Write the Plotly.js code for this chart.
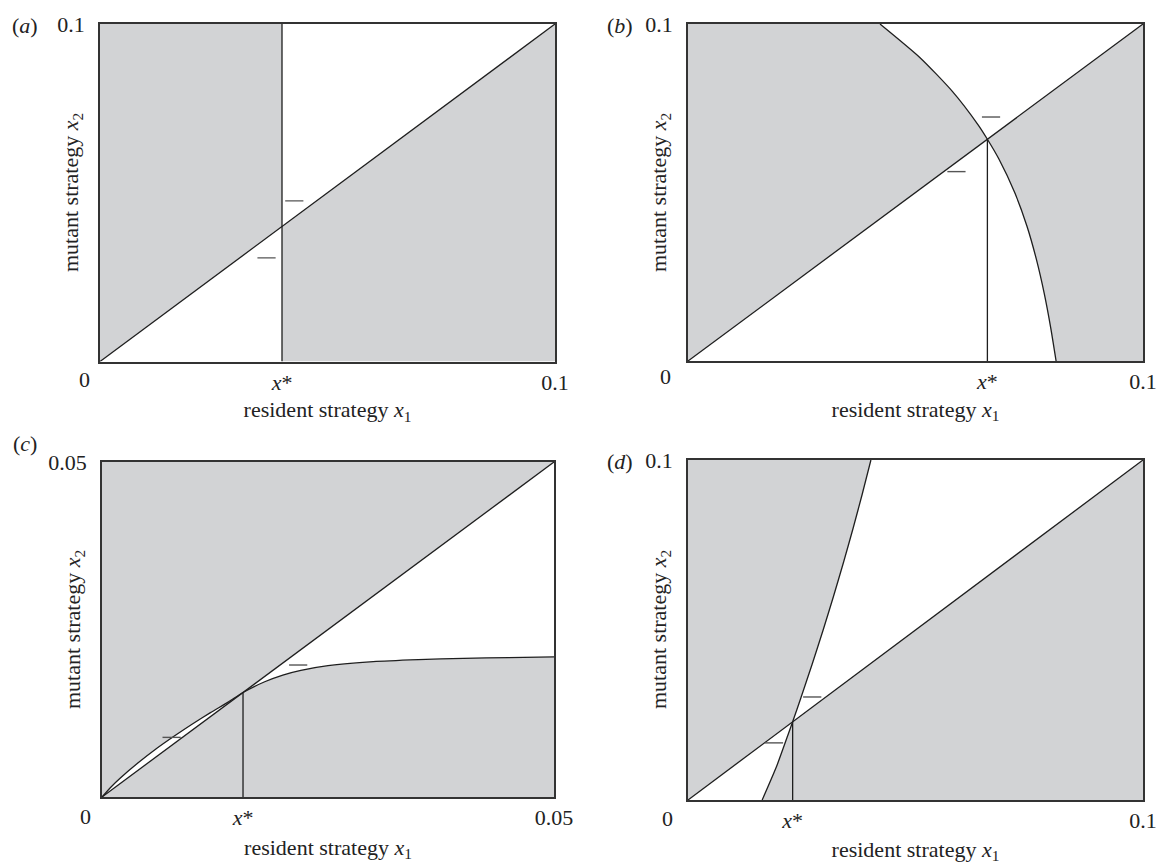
<!DOCTYPE html>
<html>
<head>
<meta charset="utf-8">
<script src="https://cdn.plot.ly/plotly-3.0.1.min.js"></script>
<style>html,body{margin:0;padding:0;background:#fff;}#chart{width:1163px;height:865px;}</style>
</head>
<body>
<div id="chart"></div>
<script>
// ---------- data ----------
// panel (a)
var maxA = 0.1;
var xStarA = 0.04;
var minusAx = [0.0427, 0.0366];
var minusAy = [0.0476, 0.0307];

// panel (b): boundary curve, listed from top to bottom
var maxB = 0.1;
var xStarB = 0.0658;
var curveBy = [0.1, 0.09, 0.08, 0.07, 0.0658, 0.06, 0.05, 0.04, 0.03, 0.02, 0.01, 0];
var curveBx = [0.0422, 0.0510, 0.0581, 0.0638, 0.0658, 0.0683, 0.0718, 0.0745, 0.0766, 0.0783, 0.0797, 0.0809];
var minusBx = [0.0666, 0.0590];
var minusBy = [0.0724, 0.0562];

// panel (c): boundary curve, left to right
var maxC = 0.05;
var xStarC = 0.0156;
var curveCx = [0, 0.001, 0.002, 0.004, 0.006, 0.008, 0.010, 0.012, 0.014, 0.0156, 0.018, 0.020, 0.022, 0.025, 0.030, 0.035, 0.040, 0.045, 0.050];
var curveCy = [0, 0.0015, 0.0028, 0.0051, 0.0072, 0.0091, 0.0109, 0.0126, 0.0142, 0.0156, 0.0172, 0.0182, 0.0189, 0.0196, 0.0202, 0.0205, 0.0207, 0.0208, 0.0209];
var minusCx = [0.0217, 0.0077];
var minusCy = [0.0197, 0.0089];

// panel (d): boundary curve, bottom to top
var maxD = 0.1;
var xStarD = 0.0230;
var curveDy = [0, 0.01, 0.02, 0.0230, 0.03, 0.04, 0.05, 0.06, 0.07, 0.08, 0.09, 0.1];
var curveDx = [0.0163, 0.0195, 0.0222, 0.0230, 0.0248, 0.0273, 0.0297, 0.0320, 0.0342, 0.0363, 0.0383, 0.0402];
var minusDx = [0.0273, 0.0189];
var minusDy = [0.0303, 0.0168];

// tick labels
var tickA = ['<i>x</i>*', '0.1'];
var tickB = ['<i>x</i>*', '0.1'];
var tickC = ['<i>x</i>*', '0.05'];
var tickD = ['<i>x</i>*', '0.1'];
var xTitle = 'resident strategy <i>x</i><sub>1</sub>';
var yTitle = 'mutant strategy <i>x</i><sub>2</sub>';
var panelLabels = ['(<i>a</i>)', '(<i>b</i>)', '(<i>c</i>)', '(<i>d</i>)'];

// ---------- styling ----------
var FONT = '"Liberation Serif", "Times New Roman", serif';
var FS = 22;
var GREY = '#d2d3d5';
var LINE = '#1e1e1e';
var traces = [];

function poly(xs, ys, ax) {
  traces.push({x: xs, y: ys, xaxis: 'x' + ax, yaxis: 'y' + ax, type: 'scatter', mode: 'lines',
    fill: 'toself', fillcolor: GREY, line: {width: 0, color: GREY},
    hoverinfo: 'skip', showlegend: false});
}
function line(xs, ys, ax, smooth) {
  traces.push({x: xs, y: ys, xaxis: 'x' + ax, yaxis: 'y' + ax, type: 'scatter', mode: 'lines',
    line: smooth ? {width: 1.3, color: LINE, shape: 'spline', smoothing: 0.6} : {width: 1.3, color: LINE},
    hoverinfo: 'skip', showlegend: false});
}
function minus(xs, ys, ax) {
  traces.push({x: xs, y: ys, xaxis: 'x' + ax, yaxis: 'y' + ax, type: 'scatter', mode: 'markers',
    marker: {symbol: 'line-ew', size: 13, color: '#555', line: {width: 1.4, color: '#555'}},
    hoverinfo: 'skip', showlegend: false});
}

// panel (a)
poly([0, xStarA, xStarA, 0], [0, xStarA, maxA, maxA], '');
poly([xStarA, maxA, maxA, xStarA], [xStarA, maxA, 0, 0], '');
line([0, maxA], [0, maxA], '');
line([xStarA, xStarA], [0, maxA], '');
minus(minusAx, minusAy, '');

// panel (b)
(function () {
  var upX = [], upY = [], loX = [], loY = [];
  for (var i = 0; i < curveBy.length; i++) {
    if (curveBy[i] >= xStarB) { upX.push(curveBx[i]); upY.push(curveBy[i]); }
    if (curveBy[i] <= xStarB) { loX.push(curveBx[i]); loY.push(curveBy[i]); }
  }
  poly([0].concat(upX.slice().reverse(), [0]), [0].concat(upY.slice().reverse(), [maxB]), '2');
  poly([xStarB, maxB, maxB].concat(loX.slice().reverse()), [xStarB, maxB, 0].concat(loY.slice().reverse()), '2');
  line([0, maxB], [0, maxB], '2');
  line(curveBx, curveBy, '2', true);
  line([xStarB, xStarB], [0, xStarB], '2');
  minus(minusBx, minusBy, '2');
})();

// panel (c)
(function () {
  var lX = [], lY = [], rX = [], rY = [];
  for (var i = 0; i < curveCx.length; i++) {
    if (curveCx[i] <= xStarC) { lX.push(curveCx[i]); lY.push(curveCy[i]); }
    if (curveCx[i] >= xStarC) { rX.push(curveCx[i]); rY.push(curveCy[i]); }
  }
  poly(lX.concat([maxC, 0]), lY.concat([maxC, maxC]), '3');
  poly([0].concat(rX, [maxC]), [0].concat(rY, [0]), '3');
  line([0, maxC], [0, maxC], '3');
  line(curveCx, curveCy, '3', true);
  line([xStarC, xStarC], [0, xStarC], '3');
  minus(minusCx, minusCy, '3');
})();

// panel (d)
(function () {
  var upX = [], upY = [], loX = [], loY = [];
  for (var i = 0; i < curveDy.length; i++) {
    if (curveDy[i] >= xStarD) { upX.push(curveDx[i]); upY.push(curveDy[i]); }
    if (curveDy[i] <= xStarD) { loX.push(curveDx[i]); loY.push(curveDy[i]); }
  }
  poly([0].concat(upX, [0]), [0].concat(upY, [maxD]), '4');
  poly([xStarD, maxD, maxD].concat(loX), [xStarD, maxD, 0].concat(loY), '4');
  line([0, maxD], [0, maxD], '4');
  line(curveDx, curveDy, '4', true);
  line([xStarD, xStarD], [0, xStarD], '4');
  minus(minusDx, minusDy, '4');
})();

// ---------- layout ----------
var W = 1163, H = 865;
function px(v) { return v / W; }
function py(v) { return 1 - v / H; }

function xa(l, r, max, vals, text, so) {
  return {domain: [px(l), px(r)], range: [0, max], showgrid: false, zeroline: false,
    showline: true, mirror: true, linecolor: '#333', linewidth: 1.5, ticks: '',
    tickvals: vals, ticktext: text, ticklabelstandoff: 0,
    tickfont: {family: FONT, size: FS, color: '#222'}, fixedrange: true,
    title: {text: xTitle, font: {family: FONT, size: FS, color: '#222'}, standoff: so}};
}
function ya(b, t, max, label) {
  return {domain: [py(b), py(t)], range: [0, max], showgrid: false, zeroline: false,
    showline: true, mirror: true, linecolor: '#333', linewidth: 1.5, ticks: '',
    tickvals: [max], ticktext: [label], ticklabelstandoff: 9,
    tickfont: {family: FONT, size: FS, color: '#222'}, fixedrange: true};
}

var layout = {
  width: W, height: H, margin: {l: 0, r: 0, t: 0, b: 0},
  paper_bgcolor: '#fff', plot_bgcolor: '#fff', showlegend: false,
  font: {family: FONT, size: FS, color: '#222'},
  xaxis: xa(100, 555, maxA, [xStarA, maxA], tickA, 8), yaxis: ya(361.5, 24, maxA, '0.1'),
  xaxis2: xa(688, 1143, maxB, [xStarB, maxB], tickB, 8), yaxis2: ya(361, 24, maxB, '0.1'),
  xaxis3: xa(102, 554, maxC, [xStarC, maxC], tickC, 10), yaxis3: ya(797, 462, maxC, '0.05'),
  xaxis4: xa(688, 1143, maxD, [xStarD, maxD], tickD, 9), yaxis4: ya(800, 460, maxD, '0.1'),
  annotations: []
};
layout.xaxis.anchor = 'y'; layout.yaxis.anchor = 'x';
layout.xaxis2.anchor = 'y2'; layout.yaxis2.anchor = 'x2';
layout.xaxis3.anchor = 'y3'; layout.yaxis3.anchor = 'x3';
layout.xaxis4.anchor = 'y4'; layout.yaxis4.anchor = 'x4';

function ann(o) {
  var a = {showarrow: false, font: {family: FONT, size: FS, color: '#222'}, xanchor: 'center', yanchor: 'middle'};
  for (var k in o) a[k] = o[k];
  layout.annotations.push(a);
}
// zero labels at the corners
ann({text: '0', xref: 'x', yref: 'y', x: 0, y: 0, xshift: -15.5, yshift: -17.5});
ann({text: '0', xref: 'x2', yref: 'y2', x: 0, y: 0, xshift: -22, yshift: -15.5});
ann({text: '0', xref: 'x3', yref: 'y3', x: 0, y: 0, xshift: -17, yshift: -19});
ann({text: '0', xref: 'x4', yref: 'y4', x: 0, y: 0, xshift: -20.5, yshift: -18.5});
// y axis titles (placed beside the top tick label, as in the reference)
ann({text: yTitle, xref: 'paper', yref: 'paper', x: px(72), y: py(193), textangle: -90});
ann({text: yTitle, xref: 'paper', yref: 'paper', x: px(660), y: py(193), textangle: -90});
ann({text: yTitle, xref: 'paper', yref: 'paper', x: px(74), y: py(630), textangle: -90});
ann({text: yTitle, xref: 'paper', yref: 'paper', x: px(660), y: py(630), textangle: -90});
// panel letters
ann({text: panelLabels[0], xref: 'paper', yref: 'paper', x: px(25), y: py(25)});
ann({text: panelLabels[1], xref: 'paper', yref: 'paper', x: px(620), y: py(25)});
ann({text: panelLabels[2], xref: 'paper', yref: 'paper', x: px(25), y: py(444)});
ann({text: panelLabels[3], xref: 'paper', yref: 'paper', x: px(620), y: py(462)});

Plotly.newPlot('chart', traces, layout, {displayModeBar: false});
</script>
</body>
</html>
